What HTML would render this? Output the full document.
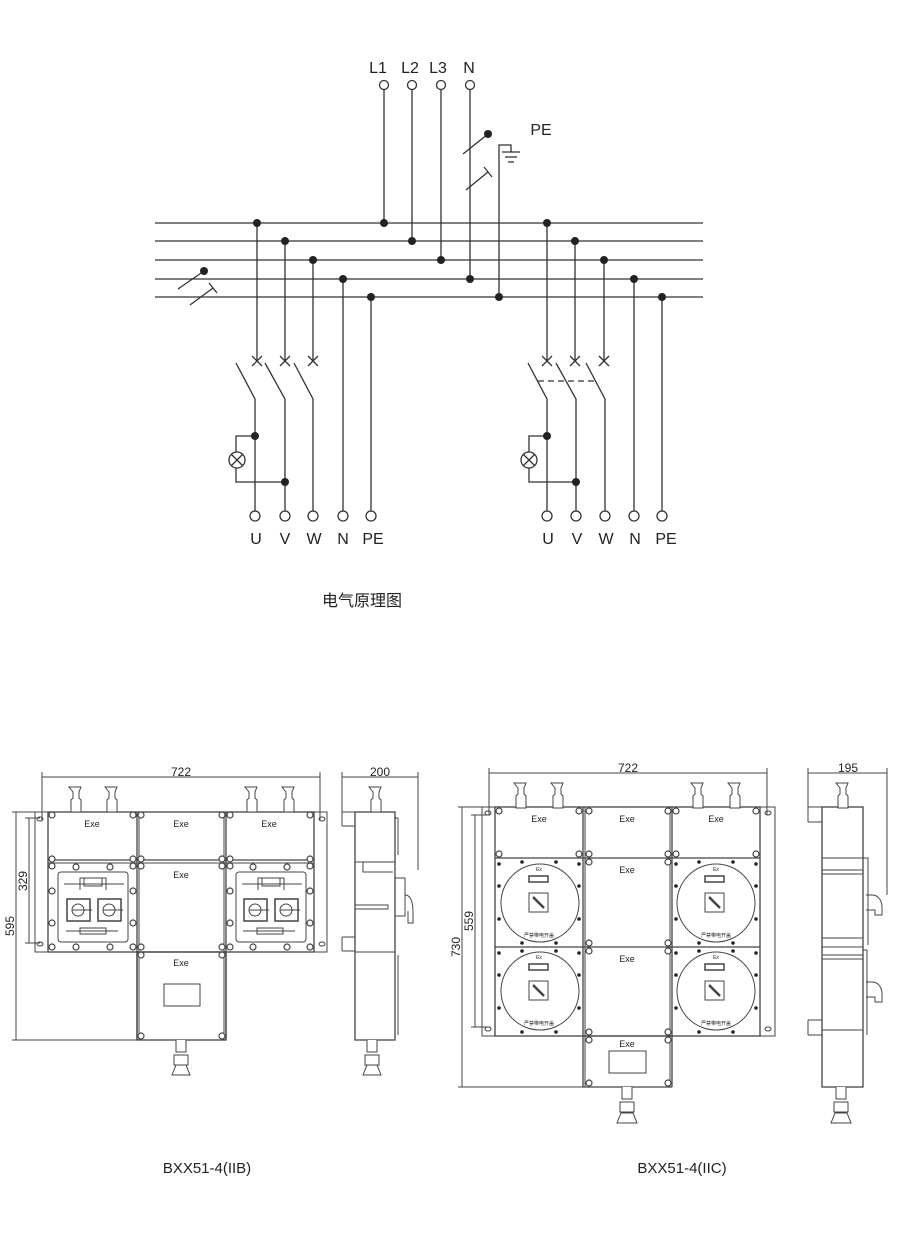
<!DOCTYPE html>
<html><head><meta charset="utf-8"><style>
html,body{margin:0;padding:0;background:#fff;}
svg{display:block;}
text{font-family:"Liberation Sans","Noto Sans CJK SC",sans-serif;fill:#222;}
</style></head><body>
<svg width="900" height="1247" viewBox="0 0 900 1247" xmlns="http://www.w3.org/2000/svg">
<g stroke="#333" stroke-width="1.3" fill="none">
<!-- buses -->
<line x1="155" y1="223" x2="703" y2="223"/>
<line x1="155" y1="241" x2="703" y2="241"/>
<line x1="155" y1="260" x2="703" y2="260"/>
<line x1="155" y1="279" x2="703" y2="279"/>
<line x1="155" y1="297" x2="703" y2="297"/>
<!-- inputs -->
<line x1="384" y1="90" x2="384" y2="223"/>
<line x1="412" y1="90" x2="412" y2="241"/>
<line x1="441" y1="90" x2="441" y2="260"/>
<line x1="470" y1="90" x2="470" y2="279"/>
<circle cx="384" cy="85" r="4.5" fill="#fff"/>
<circle cx="412" cy="85" r="4.5" fill="#fff"/>
<circle cx="441" cy="85" r="4.5" fill="#fff"/>
<circle cx="470" cy="85" r="4.5" fill="#fff"/>
<!-- PE -->
<polyline points="499,297 499,145 511,145 511,152"/>
<line x1="502" y1="152" x2="520" y2="152"/>
<line x1="505" y1="157" x2="517" y2="157"/>
<line x1="508" y1="162" x2="514" y2="162"/>
<line x1="463" y1="154" x2="488" y2="134"/>
<line x1="466" y1="190" x2="488" y2="172"/><line x1="484" y1="167" x2="492" y2="177"/>
<line x1="178" y1="289" x2="204" y2="271"/>
<line x1="190" y1="305" x2="213" y2="288"/><line x1="209" y1="283" x2="217" y2="293"/>
<!-- left group -->
<line x1="257" y1="223" x2="257" y2="361"/>
<line x1="285" y1="241" x2="285" y2="361"/>
<line x1="313" y1="260" x2="313" y2="361"/>
<line x1="343" y1="279" x2="343" y2="511"/>
<line x1="371" y1="297" x2="371" y2="511"/>
<path d="M252,356 l10,10 M262,356 l-10,10 M280,356 l10,10 M290,356 l-10,10 M308,356 l10,10 M318,356 l-10,10"/>
<polyline points="236,363 255,399 255,511"/>
<polyline points="265,363 285,399 285,511"/>
<polyline points="294,363 313,399 313,511"/>
<polyline points="255,436 236,436 236,452"/>
<polyline points="236,468 236,482 285,482"/>
<circle cx="237" cy="460" r="8"/>
<path d="M231.5,454.5 l11,11 M242.5,454.5 l-11,11"/>
<!-- right group -->
<line x1="547" y1="223" x2="547" y2="361"/>
<line x1="575" y1="241" x2="575" y2="361"/>
<line x1="604" y1="260" x2="604" y2="361"/>
<line x1="634" y1="279" x2="634" y2="511"/>
<line x1="662" y1="297" x2="662" y2="511"/>
<path d="M542,356 l10,10 M552,356 l-10,10 M570,356 l10,10 M580,356 l-10,10 M599,356 l10,10 M609,356 l-10,10"/>
<polyline points="528,363 547,399 547,511"/>
<polyline points="556,363 576,399 576,511"/>
<polyline points="586,363 605,399 605,511"/>
<line x1="538" y1="381" x2="597" y2="381" stroke-dasharray="6,4"/>
<polyline points="547,436 529,436 529,452"/>
<polyline points="529,468 529,482 576,482"/>
<circle cx="529" cy="460" r="8"/>
<path d="M523.5,454.5 l11,11 M534.5,454.5 l-11,11"/>
</g>
<g fill="#222">
<circle cx="384" cy="223" r="4"/><circle cx="412" cy="241" r="4"/><circle cx="441" cy="260" r="4"/><circle cx="470" cy="279" r="4"/><circle cx="499" cy="297" r="4"/>
<circle cx="488" cy="134" r="4"/><circle cx="204" cy="271" r="4"/>
<circle cx="257" cy="223" r="4"/><circle cx="285" cy="241" r="4"/><circle cx="313" cy="260" r="4"/><circle cx="343" cy="279" r="4"/><circle cx="371" cy="297" r="4"/>
<circle cx="547" cy="223" r="4"/><circle cx="575" cy="241" r="4"/><circle cx="604" cy="260" r="4"/><circle cx="634" cy="279" r="4"/><circle cx="662" cy="297" r="4"/>
<circle cx="255" cy="436" r="4"/><circle cx="285" cy="482" r="4"/><circle cx="547" cy="436" r="4"/><circle cx="576" cy="482" r="4"/>
</g>
<g stroke="#333" stroke-width="1.3" fill="#fff">
<circle cx="255" cy="516" r="5"/><circle cx="285" cy="516" r="5"/><circle cx="313" cy="516" r="5"/><circle cx="343" cy="516" r="5"/><circle cx="371" cy="516" r="5"/>
<circle cx="547" cy="516" r="5"/><circle cx="576" cy="516" r="5"/><circle cx="605" cy="516" r="5"/><circle cx="634" cy="516" r="5"/><circle cx="662" cy="516" r="5"/>
</g>
<g font-size="16" text-anchor="middle">
<text x="378" y="73">L1</text><text x="410" y="73">L2</text><text x="438" y="73">L3</text><text x="469" y="73">N</text>
<text x="541" y="135">PE</text>
<text x="256" y="544">U</text><text x="285" y="544">V</text><text x="314" y="544">W</text><text x="343" y="544">N</text><text x="373" y="544">PE</text>
<text x="548" y="544">U</text><text x="577" y="544">V</text><text x="606" y="544">W</text><text x="635" y="544">N</text><text x="666" y="544">PE</text>
</g>
<text x="322" y="606" font-size="16">电气原理图</text>

<!-- ===== Left drawing BXX51-4(IIB) ===== -->
<g stroke="#444" stroke-width="1" fill="none">
<line x1="42" y1="777" x2="320" y2="777"/><line x1="42" y1="772" x2="42" y2="820"/><line x1="320" y1="772" x2="320" y2="820"/>
<line x1="16" y1="812" x2="16" y2="1040"/><line x1="12" y1="812" x2="40" y2="812"/><line x1="12" y1="1040" x2="140" y2="1040"/>
<line x1="29" y1="818" x2="29" y2="943"/><line x1="25" y1="818" x2="40" y2="818"/><line x1="25" y1="943" x2="40" y2="943"/>
<!-- plate -->
<rect x="35" y="812" width="292" height="140"/>
<rect x="48" y="812" width="266" height="140" stroke-width="1.3"/>
<line x1="137" y1="812" x2="137" y2="1040" stroke-width="1.3"/><line x1="226" y1="812" x2="226" y2="1040" stroke-width="1.3"/>
<line x1="139" y1="812" x2="139" y2="1040"/><line x1="224" y1="812" x2="224" y2="1040"/>
<line x1="48" y1="860" x2="314" y2="860" stroke-width="1.3"/><line x1="48" y1="863" x2="314" y2="863"/>
<rect x="137" y="952" width="89" height="88" stroke-width="1.3"/>
<rect x="164" y="984" width="36" height="22"/>
<ellipse cx="40" cy="819" rx="3" ry="2"/><ellipse cx="322" cy="819" rx="3" ry="2"/>
<ellipse cx="40" cy="944" rx="3" ry="2"/><ellipse cx="322" cy="944" rx="3" ry="2"/>
<!-- switch panels -->
<rect x="58" y="872" width="70" height="70" rx="3"/>
<rect x="236" y="872" width="70" height="70" rx="3"/>
<path d="M64,884 h60 M80,890 v-12 h26 v12 M84,878 v8 h18 v-8 M242,884 h60 M258,890 v-12 h26 v12 M262,878 v8 h18 v-8"/>
<rect x="67" y="899" width="23" height="22" stroke-width="1.5"/><rect x="98" y="899" width="23" height="22" stroke-width="1.5"/>
<rect x="244" y="899" width="23" height="22" stroke-width="1.5"/><rect x="275" y="899" width="23" height="22" stroke-width="1.5"/>
<circle cx="78" cy="910" r="6"/><circle cx="109" cy="910" r="6"/><circle cx="255" cy="910" r="6"/><circle cx="286" cy="910" r="6"/>
<path d="M72,910 h20 M103,910 h20 M249,910 h20 M280,910 h20"/>
<path d="M66,931 h52 M243,931 h52"/>
<rect x="80" y="928" width="26" height="6"/><rect x="257" y="928" width="26" height="6"/>
<!-- side view -->
<rect x="355" y="812" width="40" height="228" stroke-width="1.3"/>
<line x1="355" y1="862" x2="395" y2="862"/><line x1="355" y1="952" x2="395" y2="952"/>
<line x1="394" y1="818" x2="398" y2="818"/><line x1="398" y1="818" x2="398" y2="855"/>
<line x1="398" y1="955" x2="398" y2="1035"/>
<path d="M342,812 h13 M342,826 h13 M342,812 v14 M342,937 h13 M342,951 h13 M342,937 v14"/>
<path d="M363,862 v10 h30 M355,905 h33 v4 h-33"/>
<rect x="395" y="878" width="10" height="38"/>
<path d="M405,895 c8,0 8,14 8,18 v10 h-5 v-12"/>
<line x1="342" y1="777" x2="418" y2="777"/><line x1="342" y1="772" x2="342" y2="812"/><line x1="418" y1="772" x2="418" y2="870"/>
</g>
<!-- bolts left -->
<g stroke="#444" stroke-width="1.2" fill="#fff">
<circle cx="52" cy="815" r="3"/><circle cx="133" cy="815" r="3"/><circle cx="141" cy="815" r="3"/><circle cx="222" cy="815" r="3"/><circle cx="230" cy="815" r="3"/><circle cx="310" cy="815" r="3"/>
<circle cx="52" cy="859" r="3"/><circle cx="133" cy="859" r="3"/><circle cx="141" cy="859" r="3"/><circle cx="222" cy="859" r="3"/><circle cx="230" cy="859" r="3"/><circle cx="310" cy="859" r="3"/>
<circle cx="52" cy="866" r="3"/><circle cx="133" cy="866" r="3"/><circle cx="141" cy="866" r="3"/><circle cx="222" cy="866" r="3"/><circle cx="230" cy="866" r="3"/><circle cx="310" cy="866" r="3"/>
<circle cx="52" cy="947" r="3"/><circle cx="133" cy="947" r="3"/><circle cx="141" cy="947" r="3"/><circle cx="222" cy="947" r="3"/><circle cx="230" cy="947" r="3"/><circle cx="310" cy="947" r="3"/>
<circle cx="76" cy="867" r="3"/><circle cx="110" cy="867" r="3"/><circle cx="253" cy="867" r="3"/><circle cx="287" cy="867" r="3"/>
<circle cx="76" cy="947" r="3"/><circle cx="110" cy="947" r="3"/><circle cx="253" cy="947" r="3"/><circle cx="287" cy="947" r="3"/>
<circle cx="52" cy="891" r="3"/><circle cx="52" cy="923" r="3"/><circle cx="133" cy="891" r="3"/><circle cx="133" cy="923" r="3"/>
<circle cx="230" cy="891" r="3"/><circle cx="230" cy="923" r="3"/><circle cx="310" cy="891" r="3"/><circle cx="310" cy="923" r="3"/>
<circle cx="141" cy="955" r="3"/><circle cx="222" cy="955" r="3"/><circle cx="141" cy="1036" r="3"/><circle cx="222" cy="1036" r="3"/>
</g>
<!-- glands left -->
<g stroke="#444" stroke-width="1" fill="#fff">
<path d="M69,787 h12 l-2,5 v6 l2,2 v12 h-10 v-12 l2,-2 v-6 z"/>
<path d="M105,787 h12 l-2,5 v6 l2,2 v12 h-10 v-12 l2,-2 v-6 z"/>
<path d="M245,787 h12 l-2,5 v6 l2,2 v12 h-10 v-12 l2,-2 v-6 z"/>
<path d="M282,787 h12 l-2,5 v6 l2,2 v12 h-10 v-12 l2,-2 v-6 z"/>
<path d="M369,787 h12 l-2,5 v6 l2,2 v12 h-10 v-12 l2,-2 v-6 z"/>
<path d="M176,1040 v12 h10 v-12 M174,1055 h14 v10 h-14 z M172,1075 l4,-10 h10 l4,10 z"/>
<path d="M367,1040 v12 h10 v-12 M365,1055 h14 v10 h-14 z M363,1075 l4,-10 h10 l4,10 z"/>
</g>
<g font-size="9" text-anchor="middle" fill="#333">
<text x="92" y="827">Exe</text><text x="181" y="827">Exe</text><text x="269" y="827">Exe</text><text x="181" y="878">Exe</text><text x="181" y="966">Exe</text>
</g>
<g font-size="12" text-anchor="middle">
<text x="181" y="776">722</text><text x="380" y="776">200</text>
<text transform="translate(14,926) rotate(-90)">595</text>
<text transform="translate(27,881) rotate(-90)">329</text>
</g>

<!-- ===== Right drawing BXX51-4(IIC) ===== -->
<g stroke="#444" stroke-width="1" fill="none">
<line x1="489" y1="773" x2="767" y2="773"/><line x1="489" y1="768" x2="489" y2="815"/><line x1="767" y1="768" x2="767" y2="815"/>
<line x1="462" y1="807" x2="462" y2="1087"/><line x1="458" y1="807" x2="490" y2="807"/><line x1="458" y1="1087" x2="590" y2="1087"/>
<line x1="475" y1="815" x2="475" y2="1027"/><line x1="471" y1="815" x2="490" y2="815"/><line x1="471" y1="1027" x2="490" y2="1027"/>
<rect x="482" y="807" width="293" height="229"/>
<rect x="495" y="807" width="265" height="229" stroke-width="1.3"/>
<line x1="583" y1="807" x2="583" y2="1087" stroke-width="1.3"/><line x1="672" y1="807" x2="672" y2="1087" stroke-width="1.3"/>
<line x1="585" y1="807" x2="585" y2="1087"/><line x1="670" y1="807" x2="670" y2="1087"/>
<line x1="495" y1="858" x2="760" y2="858" stroke-width="1.3"/><line x1="495" y1="947" x2="760" y2="947" stroke-width="1.3"/>
<line x1="583" y1="1036" x2="672" y2="1036" stroke-width="1.3"/><line x1="583" y1="1087" x2="672" y2="1087" stroke-width="1.3"/>
<rect x="609" y="1051" width="37" height="22"/>
<ellipse cx="488" cy="813" rx="3" ry="2"/><ellipse cx="768" cy="813" rx="3" ry="2"/>
<ellipse cx="488" cy="1029" rx="3" ry="2"/><ellipse cx="768" cy="1029" rx="3" ry="2"/>
<circle cx="540" cy="903" r="39"/><circle cx="716" cy="903" r="39"/><circle cx="540" cy="991" r="39"/><circle cx="716" cy="991" r="39"/>
<rect x="529" y="876" width="19" height="6" stroke-width="1.5"/><rect x="705" y="876" width="19" height="6" stroke-width="1.5"/>
<rect x="529" y="964" width="19" height="6" stroke-width="1.5"/><rect x="705" y="964" width="19" height="6" stroke-width="1.5"/>
<rect x="529" y="893" width="19" height="19"/><rect x="705" y="893" width="19" height="19"/>
<rect x="529" y="981" width="19" height="19"/><rect x="705" y="981" width="19" height="19"/>
<path d="M533,897 l11,11 M709,897 l11,11 M533,985 l11,11 M709,985 l11,11" stroke-width="2.5"/>
<!-- side view -->
<rect x="822" y="807" width="41" height="280" stroke-width="1.3"/>
<line x1="822" y1="858" x2="863" y2="858"/><line x1="822" y1="947" x2="863" y2="947"/>
<path d="M808,807 h14 M808,822 h14 M808,807 v15 M808,1020 h14 M808,1035 h14 M808,1020 v15"/>
<path d="M863,858 h5 v87 M863,950 h4 v85"/>
<path d="M822,870 h41 M822,874 h41 M822,938 h41 M822,955 h41 M822,959 h41 M822,1030 h41"/>
<path d="M866,895 h6 c8,0 10,8 10,12 v8 h-7 v-5 h-9 M866,982 h6 c8,0 10,8 10,12 v8 h-7 v-5 h-9"/>
<line x1="808" y1="773" x2="887" y2="773"/><line x1="808" y1="768" x2="808" y2="807"/><line x1="887" y1="768" x2="887" y2="895"/>
</g>
<g stroke="#444" stroke-width="1.2" fill="#fff">
<circle cx="499" cy="811" r="3"/><circle cx="579" cy="811" r="3"/><circle cx="589" cy="811" r="3"/><circle cx="668" cy="811" r="3"/><circle cx="676" cy="811" r="3"/><circle cx="756" cy="811" r="3"/>
<circle cx="499" cy="854" r="3"/><circle cx="579" cy="854" r="3"/><circle cx="589" cy="854" r="3"/><circle cx="668" cy="854" r="3"/><circle cx="676" cy="854" r="3"/><circle cx="756" cy="854" r="3"/>
<circle cx="589" cy="862" r="3"/><circle cx="668" cy="862" r="3"/><circle cx="589" cy="943" r="3"/><circle cx="668" cy="943" r="3"/>
<circle cx="589" cy="951" r="3"/><circle cx="668" cy="951" r="3"/><circle cx="589" cy="1032" r="3"/><circle cx="668" cy="1032" r="3"/>
<circle cx="589" cy="1040" r="3"/><circle cx="668" cy="1040" r="3"/><circle cx="589" cy="1083" r="3"/><circle cx="668" cy="1083" r="3"/>
</g>
<g fill="#222">
<circle cx="522" cy="862" r="1.8"/><circle cx="556" cy="862" r="1.8"/><circle cx="699" cy="862" r="1.8"/><circle cx="733" cy="862" r="1.8"/>
<circle cx="522" cy="943" r="1.8"/><circle cx="556" cy="943" r="1.8"/><circle cx="699" cy="943" r="1.8"/><circle cx="733" cy="943" r="1.8"/>
<circle cx="522" cy="951" r="1.8"/><circle cx="556" cy="951" r="1.8"/><circle cx="699" cy="951" r="1.8"/><circle cx="733" cy="951" r="1.8"/>
<circle cx="522" cy="1032" r="1.8"/><circle cx="556" cy="1032" r="1.8"/><circle cx="699" cy="1032" r="1.8"/><circle cx="733" cy="1032" r="1.8"/>
<circle cx="499" cy="886" r="1.8"/><circle cx="499" cy="919" r="1.8"/><circle cx="579" cy="886" r="1.8"/><circle cx="579" cy="919" r="1.8"/>
<circle cx="676" cy="886" r="1.8"/><circle cx="676" cy="919" r="1.8"/><circle cx="756" cy="886" r="1.8"/><circle cx="756" cy="919" r="1.8"/>
<circle cx="499" cy="975" r="1.8"/><circle cx="499" cy="1008" r="1.8"/><circle cx="579" cy="975" r="1.8"/><circle cx="579" cy="1008" r="1.8"/>
<circle cx="676" cy="975" r="1.8"/><circle cx="676" cy="1008" r="1.8"/><circle cx="756" cy="975" r="1.8"/><circle cx="756" cy="1008" r="1.8"/>
<circle cx="499" cy="864" r="1.8"/><circle cx="579" cy="864" r="1.8"/><circle cx="676" cy="864" r="1.8"/><circle cx="756" cy="864" r="1.8"/>
<circle cx="499" cy="953" r="1.8"/><circle cx="579" cy="953" r="1.8"/><circle cx="676" cy="953" r="1.8"/><circle cx="756" cy="953" r="1.8"/>
</g>
<g stroke="#444" stroke-width="1" fill="#fff">
<path d="M514,783 h12 l-2,5 v6 l2,2 v12 h-10 v-12 l2,-2 v-6 z"/>
<path d="M551,783 h12 l-2,5 v6 l2,2 v12 h-10 v-12 l2,-2 v-6 z"/>
<path d="M691,783 h12 l-2,5 v6 l2,2 v12 h-10 v-12 l2,-2 v-6 z"/>
<path d="M728,783 h12 l-2,5 v6 l2,2 v12 h-10 v-12 l2,-2 v-6 z"/>
<path d="M836,783 h12 l-2,5 v6 l2,2 v12 h-10 v-12 l2,-2 v-6 z"/>
<path d="M622,1087 v12 h10 v-12 M620,1102 h14 v10 h-14 z M617,1123 l4,-10 h12 l4,10 z"/>
<path d="M836,1087 v12 h10 v-12 M834,1102 h14 v10 h-14 z M831,1123 l4,-10 h12 l4,10 z"/>
</g>
<g font-size="9" text-anchor="middle" fill="#333">
<text x="539" y="822">Exe</text><text x="627" y="822">Exe</text><text x="716" y="822">Exe</text>
<text x="627" y="873">Exe</text><text x="627" y="962">Exe</text><text x="627" y="1047">Exe</text>
</g>
<g font-size="5" text-anchor="middle" fill="#333">
<text x="539" y="871">Ex</text><text x="716" y="871">Ex</text><text x="539" y="959">Ex</text><text x="716" y="959">Ex</text>
<text x="539" y="937">严禁带电开盖</text><text x="716" y="937">严禁带电开盖</text><text x="539" y="1025">严禁带电开盖</text><text x="716" y="1025">严禁带电开盖</text>
</g>
<g font-size="12" text-anchor="middle">
<text x="628" y="772">722</text><text x="848" y="772">195</text>
<text transform="translate(460,947) rotate(-90)">730</text>
<text transform="translate(473,921) rotate(-90)">559</text>
</g>
<g font-size="15" text-anchor="middle">
<text x="207" y="1173">BXX51-4(IIB)</text>
<text x="682" y="1173">BXX51-4(IIC)</text>
</g>
</svg>
</body></html>
